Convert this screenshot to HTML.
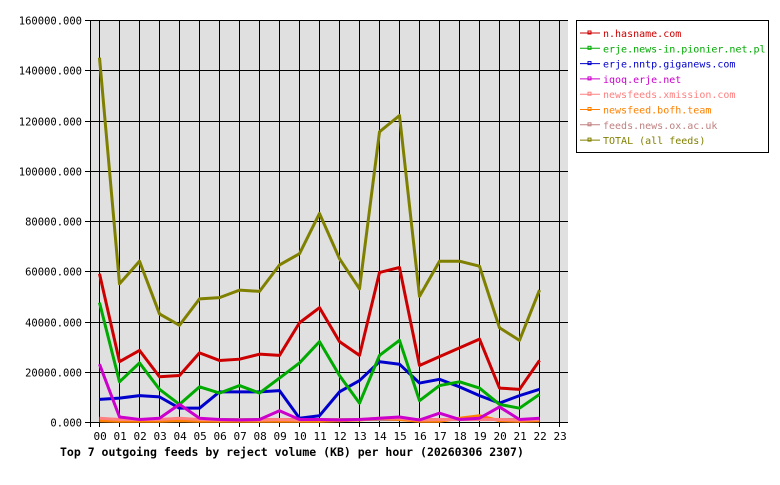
<!DOCTYPE html>
<html><head><meta charset="utf-8"><style>
body{margin:0;background:#fff;width:780px;height:480px;overflow:hidden}
svg text{font-family:"DejaVu Sans Mono","Liberation Mono",monospace;font-size:10px}
</style></head><body>
<svg id="s" width="780" height="480" xmlns="http://www.w3.org/2000/svg">
<rect x="90" y="20" width="478" height="402" fill="#e0e0e0"/>
<g id="grid"></g>
<g id="series"></g>
<rect x="576.5" y="20.5" width="192" height="132" fill="#fff" stroke="#000"/>
<g id="legend"></g>
<text x="60" y="456" style="font-weight:bold;font-size:11.5px">Top 7 outgoing feeds by reject volume (KB) per hour (20260306 2307)</text>
</svg>
<script>
const NS="http://www.w3.org/2000/svg";
function el(p,t,a,txt){const e=document.createElementNS(NS,t);for(const k in a)e.setAttribute(k,a[k]);if(txt!==undefined)e.textContent=txt;p.appendChild(e);return e;}
const g=document.getElementById('grid');
const X=h=>99.5+20*h, Y=v=>422-v*402/160000;
for(let h=0;h<=23;h++){el(g,'line',{x1:X(h),x2:X(h),y1:20,y2:427,stroke:'#000'});
 el(g,'text',{x:X(h)-6,y:440,style:'font-size:11px'},String(h).padStart(2,'0'));}
for(let i=0;i<=8;i++){const y=Math.round(Y(i*20000))+0.5;el(g,'line',{x1:85,x2:568,y1:y,y2:y,stroke:'#000'});
 el(g,'text',{x:82,y:y+4,'text-anchor':'end',style:'font-size:10.5px'},(i*20000)+'.000');}
el(g,'line',{x1:90.5,x2:90.5,y1:20,y2:427,stroke:'#000'});
const S=[
['n.hasname.com','#cc0000',[59000,24000,28500,18000,18500,27500,24500,25000,27000,26500,39500,45500,32000,26500,59500,61500,22500,26000,29500,33000,13500,13000,24500]],
['erje.news-in.pionier.net.pl','#00aa00',[47500,16000,23500,13000,7000,14000,11500,14500,11500,17500,23500,32000,18500,7500,26500,32500,8500,14500,16000,13500,7000,5500,11000]],
['erje.nntp.giganews.com','#0000cc',[9000,9500,10500,10000,5500,5500,12000,12000,12000,12500,1500,2500,12000,16500,24000,23000,15500,17000,14000,10500,7500,10500,13000]],
['iqoq.erje.net','#cc00cc',[23000,2000,1000,1500,7000,1500,1000,800,1000,4500,1000,1000,800,1000,1500,2000,800,3500,1000,1500,6000,1000,1500]],
['newsfeeds.xmission.com','#ff8080',[1500,1000,1000,1000,1500,1000,800,800,800,1000,800,1000,800,1000,1500,1500,800,1000,1000,1000,1000,800,1000]],
['newsfeed.bofh.team','#ff8000',[500,300,300,300,500,300,300,300,300,300,300,300,500,800,1500,1000,300,300,1500,2500,500,300,500]],
['feeds.news.ox.ac.uk','#c08080',[1200,1000,1000,1000,1000,1000,1000,1000,1000,1000,1000,1000,1000,1000,1000,1000,1000,1000,1000,1000,1000,1000,1000]],
['TOTAL (all feeds)','#808000',[145000,55000,64000,43000,38500,49000,49500,52500,52000,62500,67000,83000,65000,53000,115500,122000,50000,64000,64000,62000,37500,32500,52500]]];
const sg=document.getElementById('series'),lg=document.getElementById('legend');
const order=[7,6,5,4,2,1,3,0];
order.forEach(i=>{const [n,c,d]=S[i];el(sg,'polyline',{points:d.map((v,h)=>X(h)+','+Y(v)).join(' '),fill:'none',stroke:c,'stroke-width':3,'stroke-linejoin':'round'});});
S.forEach(([n,c],i)=>{const y=33+i*15.3;el(lg,'line',{x1:580,x2:600,y1:y,y2:y,stroke:c});el(lg,'rect',{x:588,y:y-2,width:3,height:3,fill:'none',stroke:c});
 el(lg,'text',{x:603,y:y+4,fill:c},n);});
</script>
</body></html>
